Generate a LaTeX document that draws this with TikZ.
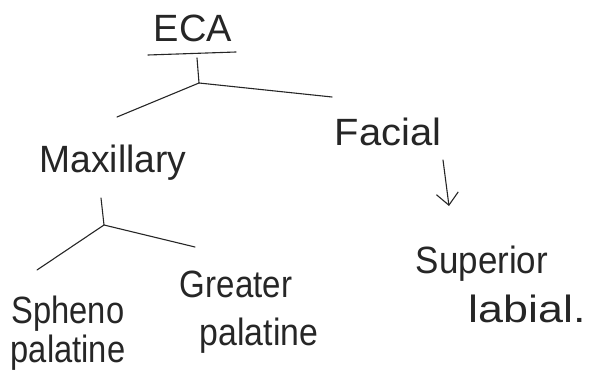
\documentclass[tikz,border=0pt]{standalone}
\usepackage{fontspec}
\setmainfont{Liberation Sans}
\usetikzlibrary{arrows.meta}
\begin{document}
\begin{tikzpicture}[x=1pt,y=-1pt,
  pen/.style={line width=1.1pt,draw=black!85,line cap=round,line join=round},
  word/.style={anchor=base,inner sep=0pt,font=\fontsize{38}{40}\selectfont,text=black!85}]
\useasboundingbox (0,0) rectangle (591,390);

% labels
\node[word] (eca) at (193,42) {ECA};
\node[word,xscale=0.98] (max) at (113,172) {Maxillary};
\node[word,xscale=1.05] (fac) at (388,146) {Facial};
\node[word,xscale=0.86] (sph) at (68,323) {Spheno};
\node[word,xscale=0.86] (pal1) at (68,362) {palatine};
\node[word,xscale=0.87] (gre) at (236,297) {Greater};
\node[word,xscale=0.89] (pal2) at (259,345) {palatine};
\node[word,xscale=0.92] (sup) at (482,273) {Superior};
\node[word,xscale=1.18] (lab) at (527,322) {labial.};

% branching under ECA
\coordinate (ulA) at (148,55);
\coordinate (ulB) at (236,52);
\coordinate (stemA) at (197,58);
\coordinate (j1) at (199,83);
\coordinate (j1L) at (117,117);
\coordinate (j1R) at (332,97);
\draw[pen] (ulA) -- (ulB);
\draw[pen] (stemA) -- (j1);
\draw[pen] (j1) -- (j1L);
\draw[pen] (j1) -- (j1R);

% branching under Maxillary
\coordinate (stemB) at (101,198);
\coordinate (j2) at (104,225);
\coordinate (j2L) at (37,270);
\coordinate (j2R) at (195,247);
\draw[pen] (stemB) -- (j2);
\draw[pen] (j2) -- (j2L);
\draw[pen] (j2) -- (j2R);

% Facial to Superior labial
\coordinate (arA) at (443,160);
\coordinate (arB) at (449,206);
\draw[pen,-{Straight Barb[length=12pt,width=22pt,line width=1.1pt]}] (arA) -- (arB);
\end{tikzpicture}
\end{document}
